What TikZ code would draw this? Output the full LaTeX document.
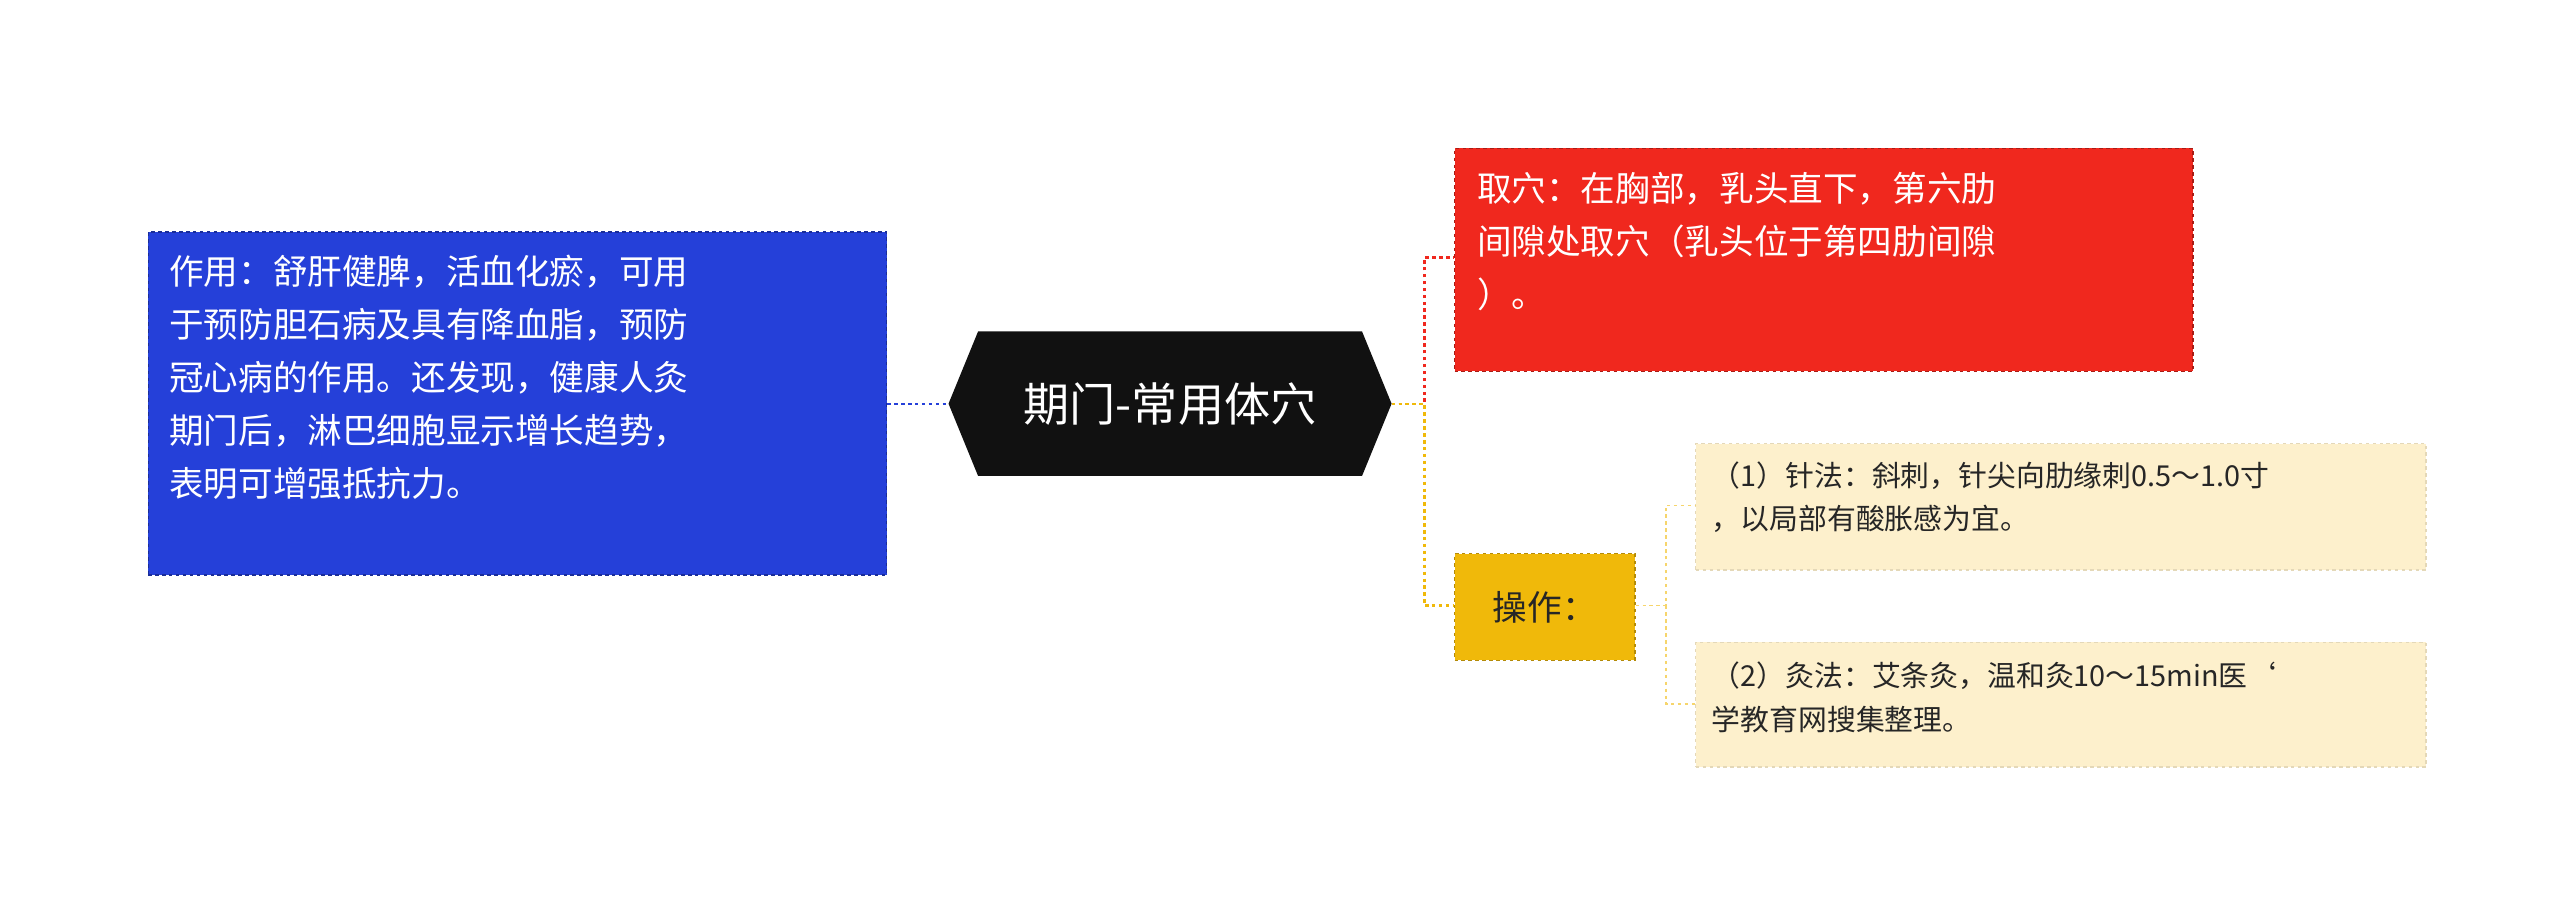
\documentclass[tikz,border=0pt]{standalone}
\usepackage{fontspec}
\setmainfont{Noto Sans CJK SC}
\definecolor{cblue}{HTML}{2540D9}
\definecolor{cred}{HTML}{F0281E}
\definecolor{cyel}{HTML}{F0B90A}
\definecolor{clight}{HTML}{FDF0CC}
\definecolor{cdark}{HTML}{111111}
\begin{document}
\begin{tikzpicture}[x=0.05cm,y=-0.05cm,
  box/.style={draw, dashed, line width=1pt, inner sep=0pt, anchor=north west},
  conn/.style={dashed, line width=2pt}]
\useasboundingbox[fill=white] (0,0) rectangle (1560,555);
% boxes
\node[box, fill=cblue, draw=cblue!70!black, minimum width=450*0.05cm, minimum height=209*0.05cm] (blue) at (90,141) {};
\node[anchor=north west, text=white, font=\fontsize{30}{46}\selectfont, align=left, inner sep=0pt] at (103,155)
 {作用：舒肝健脾，活血化瘀，可用\\于预防胆石病及具有降血脂，预防\\冠心病的作用。还发现，健康人灸\\期门后，淋巴细胞显示增长趋势，\\表明可增强抵抗力。};
\node[box, fill=cred, draw=cred!70!black, minimum width=450*0.05cm, minimum height=136*0.05cm] (red) at (886,90) {};
\node[anchor=north west, text=white, font=\fontsize{30}{46}\selectfont, align=left, inner sep=0pt] at (900,105)
 {取穴：在胸部，乳头直下，第六肋\\间隙处取穴（乳头位于第四肋间隙\\）。};
\node[box, fill=cyel, draw=cyel!75!black, minimum width=110*0.05cm, minimum height=65*0.05cm] (op) at (886,337) {};
\node[text=black!85, font=\fontsize{30}{36}\selectfont] at (op.center) {操作：};
\node[box, fill=clight, draw=clight!90!black, minimum width=445*0.05cm, minimum height=77*0.05cm] (l1) at (1033,270) {};
\node[anchor=north west, text=black!85, font=\fontsize{25}{38}\selectfont, align=left, inner sep=0pt] at (1043,281)
 {（1）针法：斜刺，针尖向肋缘刺0.5～1.0寸\\，以局部有酸胀感为宜。};
\node[box, fill=clight, draw=clight!90!black, minimum width=445*0.05cm, minimum height=76*0.05cm] (l2) at (1033,391) {};
\node[anchor=north west, text=black!85, font=\fontsize{25}{38}\selectfont, align=left, inner sep=0pt] at (1043,403)
 {（2）灸法：艾条灸，温和灸10～15min医`\\学教育网搜集整理。};
% center hexagon
\fill[cdark] (578,246) -- (596,202) -- (830,202) -- (848,246) -- (830,290) -- (596,290) -- cycle;
\node[text=white, font=\fontsize{40}{48}\selectfont] (c) at (713,246) {期门-常用体穴};
\coordinate (cl) at (578,246);
\coordinate (cr) at (848,246);
% connectors
\draw[conn, cblue] (blue.east |- cl) -- (cl);
\draw[conn, cred] (cr) -- (868,246) -- (868,157) -- (red.west |- 0,157);
\draw[conn, cyel] (cr) -- (868,246) -- (868,369) -- (op.west |- 0,369);
\draw[conn, cyel!60, line width=1.5pt] (op.east |- 0,369) -- (1015,369) -- (1015,308) -- (l1.west |- 0,308);
\draw[conn, cyel!60, line width=1.5pt] (1015,369) -- (1015,429) -- (l2.west |- 0,429);
\end{tikzpicture}
\end{document}
